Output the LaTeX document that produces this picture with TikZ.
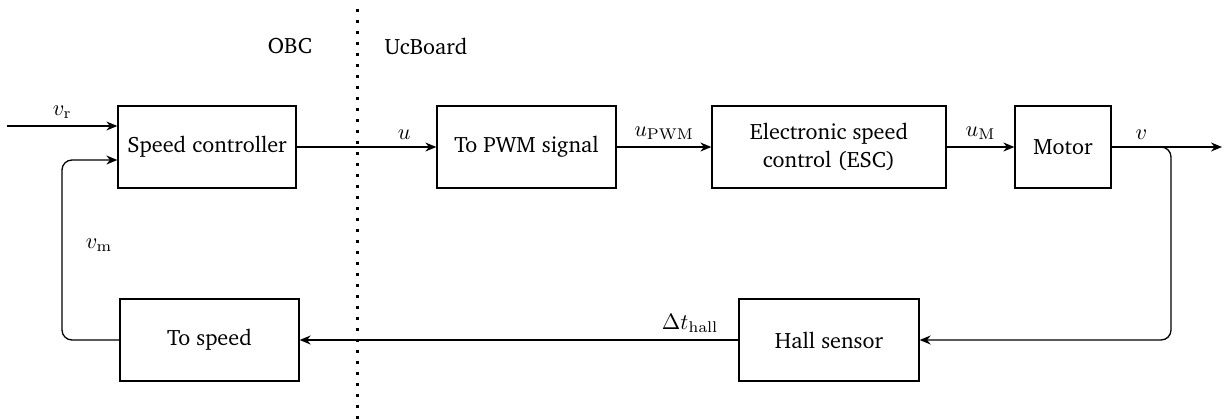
\RequirePackage{fix-cm}
\documentclass[tikz,border=0pt]{standalone}
\usepackage[T1]{fontenc}
\usepackage{charter}
\usepackage{tikz}
\usetikzlibrary{arrows.meta, positioning}

\begin{document}
\begin{tikzpicture}[
    x=1pt, y=1pt,
    font=\fontsize{11.1pt}{14pt}\selectfont,
    line width=0.65pt,
    block/.style={draw, minimum height=41pt, align=center, inner sep=2pt},
    arrow/.style={-{Stealth[length=5.5pt, width=4.5pt]}},
    sig/.style={above, inner sep=3.5pt}
]
    \useasboundingbox (0,0) rectangle (612,209.5);

    % forward path
    \node[block, minimum width=89pt] (ctrl) at (103.5,136) {Speed controller};
    \node[block, minimum width=89.5pt] (pwm) at (263.25,136) {To PWM signal};
    \node[block, minimum width=117pt] (esc) at (414.5,136) {Electronic speed\\control (ESC)};
    \node[block, minimum width=48pt] (motor) at (531.5,136) {Motor};

    % feedback path
    \node[block, minimum width=90pt] (hall) at (414.5,39.5) {Hall sensor};
    \node[block, minimum width=89.5pt] (tospeed) at (104.75,39.5) {To speed};

    % OBC / UcBoard split
    \coordinate (splittop) at (178.85,205);
    \coordinate (splitbot) at (178.85,0);
    \draw[line width=1.4pt, dash pattern=on 1.4pt off 4.1pt] (splittop) -- (splitbot);
    \node (obc) at (145,186.5) {OBC};
    \node (ucb) at (213,186.5) {UcBoard};

    % helper points
    \coordinate (ref) at (3.5,146.5);
    \coordinate (refin) at ([yshift=10.5pt]ctrl.west);
    \coordinate (fbin) at ([yshift=-6.5pt]ctrl.west);
    \coordinate (branch) at (585.5,136);
    \coordinate (out) at (611,136);
    \coordinate (loopl) at (31,0);

    \draw[arrow] (ref) -- node[sig] {$v_{\mathrm{r}}$} (refin);
    \draw[arrow] (ctrl) -- node[sig, pos=0.77] {$u$} (pwm);
    \draw[arrow] (pwm) -- node[sig] {$u_{\mathrm{PWM}}$} (esc);
    \draw[arrow] (esc) -- node[sig] {$u_{\mathrm{M}}$} (motor);
    \draw[arrow] (motor) -- (out);
    \path (motor.east) -- node[sig] {$v$} (branch);
    \draw[arrow, rounded corners=5pt] (motor.east) -- (branch) -- (branch |- hall.east) -- (hall.east);
    \draw[arrow] (hall) -- node[sig, pos=0.11] {$\Delta t_{\mathrm{hall}}$} (tospeed);
    \draw[arrow, rounded corners=5pt] (tospeed.west) -- (loopl |- tospeed.west)
        -- (loopl |- fbin) -- (fbin);
    \node (vm) at (49.5,87) {$v_{\mathrm{m}}$};
\end{tikzpicture}
\end{document}
